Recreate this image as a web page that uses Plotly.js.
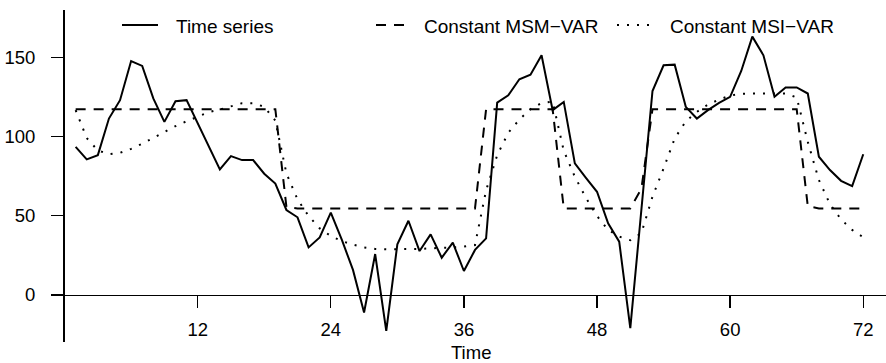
<!DOCTYPE html>
<html>
<head>
<meta charset="utf-8">
<script src="https://cdn.plot.ly/plotly-3.0.1.min.js"></script>
<style>html,body{margin:0;padding:0;background:#fff;}#chart{width:886px;height:363px;}</style>
</head>
<body>
<div id="chart"></div>
<script>
// Time index 1..72
const time = Array.from({length: 72}, (_, i) => i + 1);

const timeSeries = [93.4, 85.5, 88.2, 111.3, 122.9, 147.6, 144.5, 124, 109.2, 122.2,
  122.9, 108.5, 94, 79.2, 87.6, 85.1, 85.1, 76.5, 70.3, 53.6,
  49, 30, 36.3, 51.9, 34.7, 15.8, -11.1, 25.8, -22.7, 31.9,
  46.8, 27.7, 38.2, 23.5, 33, 15.1, 28.4, 35.7, 121.4, 126,
  136.1, 139, 151.2, 116.6, 121.8, 83, 73.9, 65.1, 45.2, 33.6,
  -21, 54, 128.7, 144.9, 145.3, 118.7, 111.3, 116.6, 121.2, 125,
  141.3, 163, 151.2, 125, 130.9, 130.9, 127.1, 87.2, 78.8, 72,
  68.7, 88.8];

const msmVar = [117.2, 117.2, 117.2, 117.2, 117.2, 117.2, 117.2, 117.2, 117.2, 117.2,
  117.2, 117.2, 117.2, 117.2, 117.2, 117.2, 117.2, 117.2, 117.2, 55.5,
  54.6, 54.6, 54.6, 54.6, 54.6, 54.6, 54.6, 54.6, 54.6, 54.6,
  54.6, 54.6, 54.6, 54.6, 54.6, 54.6, 54.6, 117.2, 117.2, 117.2,
  117.2, 117.2, 117.2, 117.2, 54.6, 54.6, 54.6, 54.6, 54.6, 54.6,
  54.6, 67, 117.2, 117.2, 117.2, 117.2, 117.2, 117.2, 117.2, 117.2,
  117.2, 117.2, 117.2, 117.2, 117.2, 117.2, 56, 54.6, 54.6, 54.6,
  54.6, 54.6];

const msiVar = [116.6, 99, 91.2, 88.8, 89.7, 92.2, 95.4, 99.1, 103.1, 106.5,
  109.6, 112.4, 115.3, 117, 119, 121, 121, 118.7, 110, 76.7,
  60.3, 49.8, 42, 37.2, 34, 31.7, 30, 29, 28.8, 28.8,
  28.8, 29, 29.4, 29.6, 30, 30.5, 31.5, 66, 88.2, 102.3,
  110.7, 117.2, 121.2, 122, 91, 74.6, 61.3, 49.8, 41, 36.8,
  34.5, 39, 62, 79.8, 98.7, 109.6, 115.5, 120.1, 123.3, 125.8,
  126.9, 127.1, 127.1, 127.1, 127.1, 124.6, 96.6, 72.5, 57.3, 47.7,
  41, 36.4];

const xTicks = [12, 24, 36, 48, 60, 72];
const yTicks = [0, 50, 100, 150];
const seriesNames = ['Time series', 'Constant MSM\u2212VAR', 'Constant MSI\u2212VAR'];
const xTitle = 'Time';

const FONT = '"Liberation Sans", Arial, Helvetica, sans-serif';
const L = 65, T = 10, W = 886, H = 363, B = 21;
const PW = W - L, PH = H - T - B;
const px = v => (v - L) / PW;          // pixel -> paper x
const py = v => (H - B - v) / PH;      // pixel -> paper y

const yRange = [-29.7, 179.8];
const zeroPos = (0 - yRange[0]) / (yRange[1] - yRange[0]);

const traces = [
  {x: time, y: timeSeries, name: seriesNames[0], type: 'scatter', mode: 'lines',
   line: {color: '#000', width: 2}, showlegend: false},
  {x: time, y: msmVar, name: seriesNames[1], type: 'scatter', mode: 'lines',
   line: {color: '#000', width: 2, dash: '10px,8px'}, showlegend: false},
  {x: time, y: msiVar, name: seriesNames[2], type: 'scatter', mode: 'lines',
   line: {color: '#000', width: 2, dash: '2px,8px'}, showlegend: false}
];

// manual legend (samples + labels)
const legendItems = [
  {x0: 122, x1: 158, tx: 174, dash: 'solid'},
  {x0: 376, x1: 404, tx: 422, dash: '10px,8px'},
  {x0: 617, x1: 649, tx: 668, dash: '2px,8px'}
];
const legY = 25;
const shapes = legendItems.map(it => ({
  type: 'line', xref: 'paper', yref: 'paper',
  x0: px(it.x0), x1: px(it.x1), y0: py(legY), y1: py(legY),
  line: {color: '#000', width: 2, dash: it.dash}
}));
const annotations = legendItems.map((it, i) => ({
  xref: 'paper', yref: 'paper', x: px(it.tx), y: py(legY + 1),
  xanchor: 'left', yanchor: 'middle', showarrow: false,
  text: seriesNames[i], font: {family: FONT, size: 19, color: '#000'}
}));
annotations.push({
  xref: 'paper', yref: 'paper', x: px(471), y: py(352),
  xanchor: 'center', yanchor: 'middle', showarrow: false,
  text: xTitle, font: {family: FONT, size: 18.5, color: '#000'}
});

const layout = {
  width: W, height: H,
  margin: {l: L, r: 0, t: T, b: B, pad: 0},
  paper_bgcolor: '#fff', plot_bgcolor: '#fff',
  font: {family: FONT, color: '#000'},
  showlegend: false,
  xaxis: {
    range: [0.04, 74.05], showgrid: false, zeroline: false,
    showline: true, linecolor: '#000', linewidth: 1.3,
    ticks: 'outside', ticklen: 12, tickwidth: 1.3, tickcolor: '#000',
    tickvals: xTicks, ticktext: xTicks.map(String),
    tickfont: {family: FONT, size: 18.5, color: '#000'},
    anchor: 'free', position: zeroPos, ticklabelstandoff: 6
  },
  yaxis: {
    range: yRange, showgrid: false, zeroline: false,
    showline: true, linecolor: '#000', linewidth: 2,
    ticks: 'outside', ticklen: 12, tickwidth: 1.3, tickcolor: '#000',
    tickvals: yTicks, ticktext: yTicks.map(String),
    tickfont: {family: FONT, size: 18.5, color: '#000'},
    ticklabelstandoff: 12
  },
  shapes: shapes,
  annotations: annotations
};

Plotly.newPlot('chart', traces, layout, {staticPlot: true, displayModeBar: false});
</script>
</body>
</html>
